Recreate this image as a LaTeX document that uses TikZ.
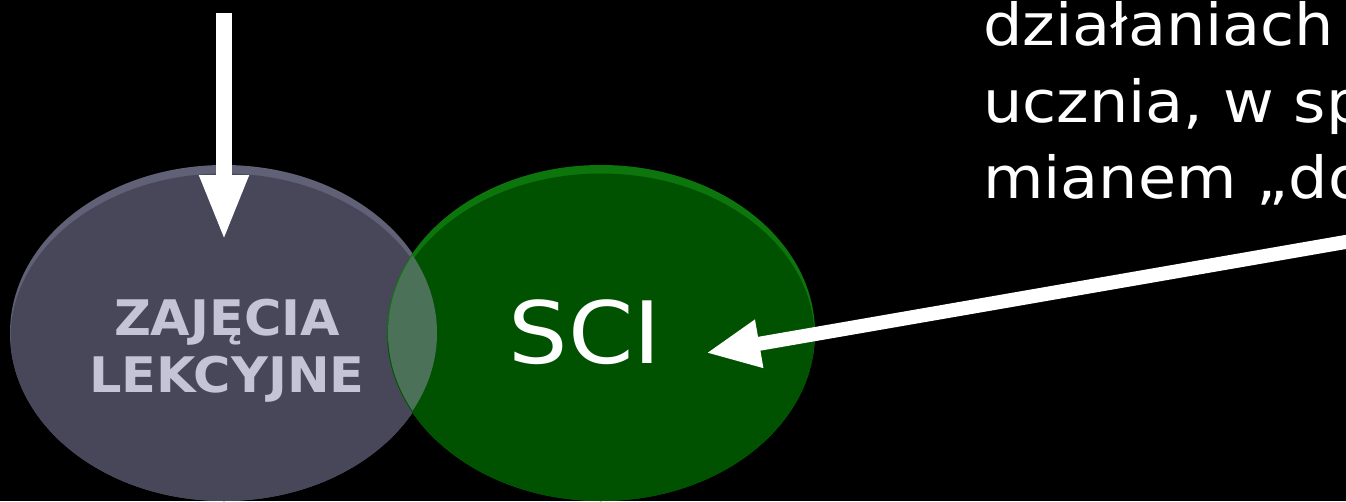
\documentclass[tikz,border=0pt]{standalone}
\usepackage{fontspec}
\setmainfont{DejaVu Sans}
\newfontfamily\bodyfont[FakeStretch=1.07]{DejaVu Sans}
\newfontfamily\scifont[FakeStretch=1.09]{DejaVu Sans}
\newfontfamily\labelfont[FakeStretch=1.04]{DejaVu Sans Bold}
\usetikzlibrary{shapes.geometric,arrows.meta}
\definecolor{bgc}{RGB}{0,0,0}
\definecolor{greyfill}{RGB}{71,71,89}
\definecolor{greyrim}{RGB}{96,96,118}
\definecolor{greenfill}{RGB}{0,82,0}
\definecolor{greenrim}{RGB}{12,118,12}
\definecolor{overlap}{RGB}{75,114,88}
\definecolor{labelgrey}{RGB}{196,196,214}
\tikzset{
  blob/.style={ellipse, inner sep=0pt, minimum width=428pt, minimum height=336pt},
  bigarrow/.style={draw=white, line width=16pt, -{Triangle[width=45pt,length=66pt]}},
  sidearrow/.style={draw=white, line width=14pt, -{Triangle[width=45pt,length=54pt]}},
  bodytext/.style={text=white, inner sep=0pt, font=\bodyfont\fontsize{58}{77}\selectfont, anchor=base west},
}
\begin{document}
\begin{tikzpicture}[x=1pt,y=-1pt]
\useasboundingbox (0,0) rectangle (1346,501);
\fill[bgc] (0,0) rectangle (1346,501);
\clip (0,0) rectangle (1346,501);
% grey ellipse with rim
\node[blob, fill=greyrim] (zl) at (224,333) {};
\begin{scope}
  \clip (224,333) ellipse [x radius=214, y radius=168];
  \fill[greyfill] (224,337.5) ellipse [x radius=213.5, y radius=164];
\end{scope}
% green ellipse with rim
\node[blob, fill=greenrim] (sci) at (601,333) {};
\begin{scope}
  \clip (601,333) ellipse [x radius=214, y radius=168];
  \fill[greenfill] (601,337.5) ellipse [x radius=213.5, y radius=164];
\end{scope}
% overlap
\begin{scope}
  \clip (224,333) ellipse [x radius=213, y radius=167];
  \fill[overlap] (601,333) ellipse [x radius=213, y radius=167];
\end{scope}
% labels
\node[text=labelgrey, inner sep=0pt, align=center, font=\labelfont\fontsize{49}{57}\selectfont] (zlt) at (227,351) {ZAJĘCIA\\LEKCYJNE};
\node[text=white, inner sep=0pt, anchor=base, font=\scifont\fontsize{86}{90}\selectfont] (scit) at (585,363) {SCI};
% top right text
\node[bodytext] (t1) at (983,45) {działaniach};
\node[bodytext] (t2) at (983,122) {ucznia, w sp};
\node[bodytext] (t3) at (983,198) {mianem „do};
% arrows
\coordinate (topsrc) at (224,13);
\coordinate (toptip) at (224,241);
\draw[bigarrow] (topsrc) -- (toptip);
\coordinate (rsrc) at (1380,236);
\coordinate (rtip) at (706,353);
\draw[sidearrow] (rsrc) -- (rtip);
\end{tikzpicture}
\end{document}
